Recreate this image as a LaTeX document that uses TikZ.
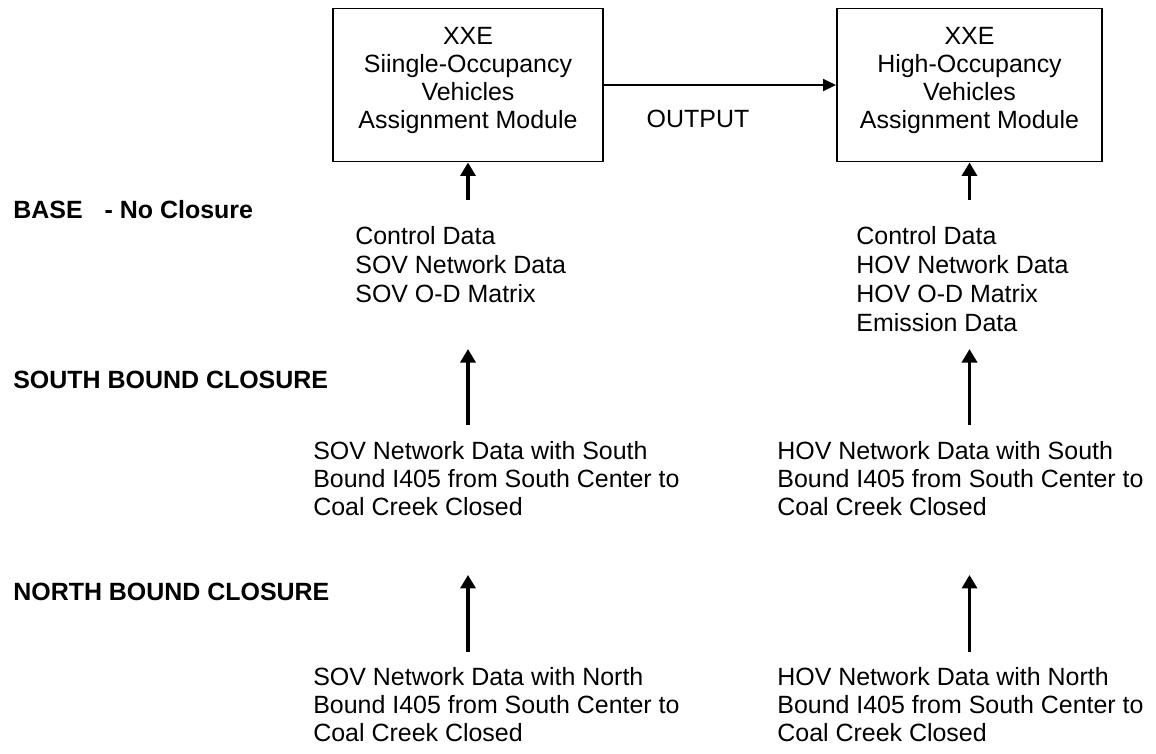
\documentclass[tikz,border=0pt]{standalone}
\usepackage{fontspec}
\setmainfont{Liberation Sans}
\usetikzlibrary{arrows.meta}
\tikzset{
    module-box/.style = {draw, line width=1.1pt, rectangle, align=center, inner sep=0pt, minimum width=5.4cm, minimum height=3.06cm, font=\fontsize{14.2}{15.9}\selectfont},
    data-text/.style = {anchor=north west, inner sep=0pt, align=left, font=\fontsize{14.2}{15.9}\selectfont},
    case-label/.style = {anchor=west, inner sep=0pt, font=\fontsize{14.2}{16}\selectfont\bfseries},
    feed-arrow/.style = {line width=2.1pt, -{Triangle[width=0.3cm, length=0.27cm]}},
}

\begin{document}
\begin{tikzpicture}
\useasboundingbox (0,0) rectangle (23.12,-15.06);
\node [module-box] (sovbox) at (9.36,-1.7) {XXE\\Siingle-Occupancy\\Vehicles\\Assignment Module\\[-0.28cm]\mbox{}};
\node [module-box, minimum width=5.3cm] (hovbox) at (19.39,-1.7) {XXE\\High-Occupancy\\Vehicles\\Assignment Module\\[-0.28cm]\mbox{}};
\draw [line width=1.1pt, -{Triangle[width=0.24cm, length=0.26cm]}] (sovbox) -- (hovbox);
\node [inner sep=0pt, font=\fontsize{14.2}{16}\selectfont] (outlbl) at (13.96,-2.38) {OUTPUT};

\node [case-label] (baselbl) at (0.26,-4.2) {BASE\hspace{0.44cm}- No Closure};
\node [case-label] (southlbl) at (0.26,-7.6) {SOUTH BOUND CLOSURE};
\node [case-label] (northlbl) at (0.26,-11.84) {NORTH BOUND CLOSURE};

\node [data-text, font=\fontsize{14.2}{16.5}\selectfont] (sovbase) at (7.1,-4.52) {Control Data\\SOV Network Data\\SOV O-D Matrix};
\node [data-text, font=\fontsize{14.2}{16.5}\selectfont] (hovbase) at (17.12,-4.52) {Control Data\\HOV Network Data\\HOV O-D Matrix\\Emission Data};
\node [data-text] (sovsouth) at (6.26,-8.83) {SOV Network Data with South\\Bound I405 from South Center to\\Coal Creek Closed};
\node [data-text] (hovsouth) at (15.54,-8.83) {HOV Network Data with South\\Bound I405 from South Center to\\Coal Creek Closed};
\node [data-text] (sovnorth) at (6.26,-13.35) {SOV Network Data with North\\Bound I405 from South Center to\\Coal Creek Closed};
\node [data-text] (hovnorth) at (15.54,-13.35) {HOV Network Data with North\\Bound I405 from South Center to\\Coal Creek Closed};

\draw [feed-arrow, shorten <=0.52cm] (sovbox.south |- sovbase.north) -- (sovbox.south);
\draw [feed-arrow, shorten <=0.52cm] (hovbox.south |- hovbase.north) -- (hovbox.south);
\draw [feed-arrow, shorten <=0.33cm, shorten >=0.92cm] (sovbox.south |- sovsouth.north) -- (sovbox.south |- sovbase.south);
\draw [feed-arrow, shorten <=0.33cm, shorten >=0.34cm] (hovbox.south |- hovsouth.north) -- (hovbox.south |- hovbase.south);
\draw [feed-arrow, shorten <=0.31cm, shorten >=1.17cm] (sovbox.south |- sovnorth.north) -- (sovbox.south |- sovsouth.south);
\draw [feed-arrow, shorten <=0.31cm, shorten >=1.17cm] (hovbox.south |- hovnorth.north) -- (hovbox.south |- hovsouth.south);
\end{tikzpicture}
\end{document}
